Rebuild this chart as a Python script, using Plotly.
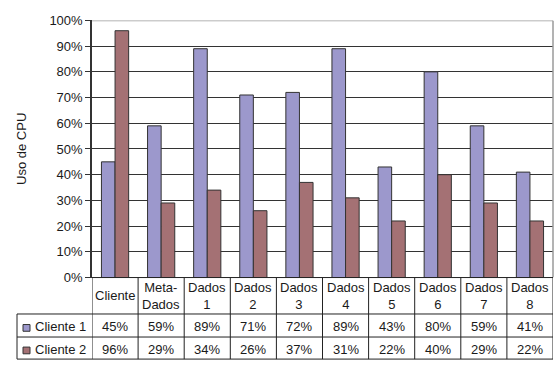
import plotly.graph_objects as go

# Data
categories = ["Cliente", "Meta-<br>Dados", "Dados<br>1", "Dados<br>2", "Dados<br>3",
              "Dados<br>4", "Dados<br>5", "Dados<br>6", "Dados<br>7", "Dados<br>8"]
series_names = ["Cliente 1", "Cliente 2"]
cliente1 = [45, 59, 89, 71, 72, 89, 43, 80, 59, 41]
cliente2 = [96, 29, 34, 26, 37, 31, 22, 40, 29, 22]
y_ticks = list(range(0, 101, 10))
y_tick_labels = [f"{v}%" for v in y_ticks]

W, H = 556, 369
FONT = "Arial"
TXT = "#1a1a1a"
COLORS = ["#9C98CC", "#A47174"]


def px(x):
    return x / W


def py(y):
    return 1 - y / H


# plot area in pixels
PL, PR, PT, PB = 92, 553, 14, 282
# data table rows in pixels
ROW_HDR_BOTTOM, ROW1_BOTTOM, ROW2_BOTTOM = 320, 344, 367
TABLE_LEFT = 17

idx = list(range(len(categories)))

fig = go.Figure()
for name, vals, col in zip(series_names, [cliente1, cliente2], COLORS):
    fig.add_trace(go.Bar(
        x=idx, y=vals, name=name,
        marker=dict(color=col, line=dict(color="#333333", width=1)),
        showlegend=False,
    ))

shapes = []
annotations = []
line_k = dict(color="#222222", width=1)

# grey plot-area border (top and right)
shapes.append(dict(type="line", xref="paper", yref="y", x0=px(PL), x1=px(PR), y0=100, y1=100,
                   line=dict(color="#9a9a9a", width=1.5)))
shapes.append(dict(type="line", xref="paper", yref="y", x0=px(PR), x1=px(PR), y0=0, y1=100,
                   line=dict(color="#9a9a9a", width=1.5)))

# data table: horizontal rules
shapes.append(dict(type="line", xref="paper", yref="paper", x0=px(PL), x1=px(PR),
                   y0=py(PB), y1=py(PB), line=line_k))
for yy in (ROW_HDR_BOTTOM, ROW1_BOTTOM, ROW2_BOTTOM):
    shapes.append(dict(type="line", xref="paper", yref="paper", x0=px(TABLE_LEFT), x1=px(PR),
                       y0=py(yy), y1=py(yy), line=line_k))
# data table: vertical rules
shapes.append(dict(type="line", xref="paper", yref="paper", x0=px(TABLE_LEFT), x1=px(TABLE_LEFT),
                   y0=py(ROW_HDR_BOTTOM), y1=py(ROW2_BOTTOM), line=line_k))
for i in range(len(categories) + 1):
    shapes.append(dict(type="line", xref="x", yref="paper", x0=i - 0.5, x1=i - 0.5,
                       y0=py(PB), y1=py(ROW2_BOTTOM), line=line_k))

# header row: category labels
for i, c in enumerate(categories):
    annotations.append(dict(xref="x", yref="paper", x=i, y=py((PB + ROW_HDR_BOTTOM) / 2),
                            text=c, showarrow=False, font=dict(size=13, color=TXT, family=FONT),
                            xanchor="center", yanchor="middle"))

# value rows with legend keys
rows = [(ROW_HDR_BOTTOM, ROW1_BOTTOM), (ROW1_BOTTOM, ROW2_BOTTOM)]
for (top, bot), name, vals, col in zip(rows, series_names, [cliente1, cliente2], COLORS):
    cy = (top + bot) / 2 + 1
    for i, v in enumerate(vals):
        annotations.append(dict(xref="x", yref="paper", x=i, y=py(cy), text=f"{v}%",
                                showarrow=False, font=dict(size=13, color=TXT, family=FONT),
                                xanchor="center", yanchor="middle"))
    annotations.append(dict(xref="paper", yref="paper", x=px(33), y=py(cy), text=name,
                            showarrow=False, font=dict(size=13, color=TXT, family=FONT),
                            xanchor="left", yanchor="middle"))
    shapes.append(dict(type="rect", xref="paper", yref="paper",
                       x0=px(23), x1=px(30), y0=py(cy + 5), y1=py(cy - 2),
                       fillcolor=col, line=dict(color="#333333", width=1)))

# y-axis title
annotations.append(dict(xref="paper", yref="paper", x=px(22), y=py((PT + PB) / 2),
                        text="Uso de CPU", textangle=-90, showarrow=False,
                        font=dict(size=13, color=TXT, family=FONT),
                        xanchor="center", yanchor="middle"))

fig.update_layout(
    width=W, height=H,
    margin=dict(l=0, r=0, t=0, b=0),
    paper_bgcolor="white", plot_bgcolor="white",
    barmode="group", bargap=0.41, bargroupgap=0,
    font=dict(family=FONT, size=13, color=TXT),
    shapes=shapes, annotations=annotations,
    xaxis=dict(domain=[px(PL), px(PR)], range=[-0.5, len(categories) - 0.5],
               showticklabels=False, showgrid=False, zeroline=False, ticks="", fixedrange=True),
    yaxis=dict(domain=[py(PB), py(PT)], range=[0, 100], tickmode="array",
               tickvals=y_ticks, ticktext=y_tick_labels,
               showgrid=True, gridcolor="#333333", gridwidth=1,
               showline=True, linecolor="#333333", linewidth=1.5,
               ticks="outside", ticklen=5, tickcolor="#333333",
               zeroline=False, tickfont=dict(size=13, color=TXT, family=FONT)),
)

fig.write_html("out.html")
